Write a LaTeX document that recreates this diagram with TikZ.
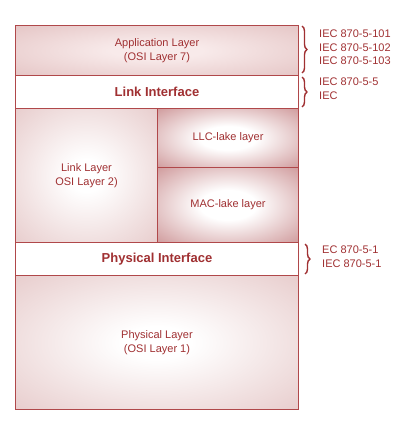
\documentclass[tikz,border=0pt]{standalone}
\usepackage{fontspec}
\setmainfont{Liberation Sans}
\usetikzlibrary{decorations.pathreplacing}
\definecolor{edgeRed}{RGB}{176,72,74}
\definecolor{txtRed}{RGB}{160,48,50}
\definecolor{pinkA}{RGB}{222,184,184}
\definecolor{pinkB}{RGB}{196,130,132}
\definecolor{pinkC}{RGB}{248,234,234}
\pgfdeclareradialshading{radA}{\pgfpoint{0bp}{0bp}}{color(0bp)=(pinkC); color(8bp)=(pinkC); color(46bp)=(pinkA); color(72bp)=(pinkA)}
\pgfdeclareradialshading{radW}{\pgfpoint{0bp}{0bp}}{color(0bp)=(white); color(6bp)=(white); color(48bp)=(pinkA); color(72bp)=(pinkA)}
\pgfdeclareradialshading{radB}{\pgfpoint{0bp}{0bp}}{color(0bp)=(white); color(10bp)=(white); color(42bp)=(pinkB); color(72bp)=(pinkB)}
\tikzset{
  layer/.style={draw=edgeRed, line width=1pt, rectangle, inner sep=0pt, anchor=north west,
    text=txtRed, font=\fontsize{11}{13.5}\selectfont, align=center},
  layerA/.style={layer, shading=radA},
  layerW/.style={layer, shading=radW},
  layerB/.style={layer, shading=radB},
  iface/.style={layer, fill=white, font=\fontsize{13}{15}\bfseries\selectfont},
  brc/.style={draw=txtRed, line width=1.4pt, decorate, decoration={brace, amplitude=5pt}},
  lbl/.style={anchor=north west, inner sep=0pt, text=txtRed, align=left, font=\fontsize{11}{13.5}\selectfont}
}
\begin{document}
\begin{tikzpicture}[x=1pt, y=-1pt]
\useasboundingbox (0,0) rectangle (415,431);
\node[layerA, minimum width=283pt, minimum height=50pt] (app) at (15,25) {Application Layer\\(OSI Layer 7)};
\node[iface, minimum width=283pt, minimum height=33pt] (li) at (15,75) {Link Interface};
\node[layerW, minimum width=142pt, minimum height=134pt] (ll) at (15,108) {Link Layer\\OSI Layer 2)};
\node[layerB, minimum width=141pt, minimum height=59pt] (llc) at (157,108) {LLC-lake layer};
\node[layerB, minimum width=141pt, minimum height=75pt] (mac) at (157,167) {MAC-lake layer};
\node[iface, minimum width=283pt, minimum height=33pt] (pi) at (15,242) {Physical Interface};
\node[layerW, minimum width=283pt, minimum height=134pt] (pl) at (15,275) {Physical Layer\\(OSI Layer 1)};
\draw[edgeRed, line width=1pt] (15,25) rectangle (298,409);
\coordinate (b1a) at (302,26);
\coordinate (b1b) at (302,73);
\coordinate (b2a) at (302,77);
\coordinate (b2b) at (302,107);
\coordinate (b3a) at (305,244);
\coordinate (b3b) at (305,274);
\draw[brc] (b1a) -- (b1b);
\draw[brc] (b2a) -- (b2b);
\draw[brc] (b3a) -- (b3b);
\node[lbl] (t1) at (319,30) {IEC 870-5-101\\IEC 870-5-102\\IEC 870-5-103};
\node[lbl] (t2) at (319,78) {IEC 870-5-5\\IEC};
\node[lbl] (t3) at (322,246) {EC 870-5-1\\IEC 870-5-1};
\end{tikzpicture}
\end{document}
